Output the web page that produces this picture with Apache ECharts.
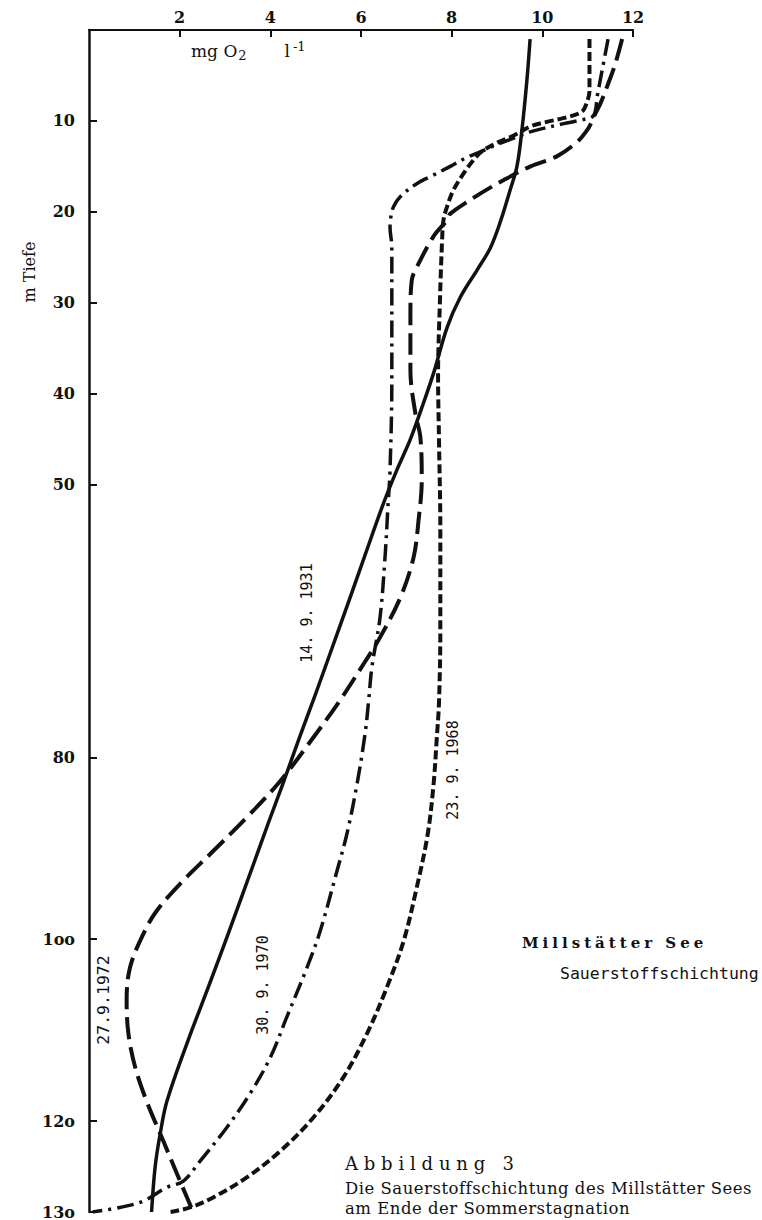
<!DOCTYPE html>
<html><head><meta charset="utf-8">
<script src="https://cdn.jsdelivr.net/npm/echarts@6/dist/echarts.min.js"></script>
<style>html,body{margin:0;padding:0;background:#fff}#c{width:762px;height:1220px}</style>
</head><body><div id="c"></div>
<script>
// ---- axis ticks ----
const o2Ticks = [2, 4, 6, 8, 10, 12];
const depthTicks = [10, 20, 30, 40, 50, 80, 100, 120, 130];
const depthTickLabels = ['10', '20', '30', '40', '50', '80', '1oo', '12o', '13o'];

// ---- series: depth (m) and oxygen (mg O2 / l) ----
const name1931 = '14. 9. 1931';
const depth1931 = [1, 5.5, 11, 15, 17.6, 21, 24, 26.4, 29.4, 32.7, 37.6, 41, 45, 48.4, 52, 57.6, 62.7, 68, 73, 78, 83, 87.3, 92, 99.4, 105.3, 111.2, 117.8, 121.4, 125, 130];
const o2_1931 = [9.73, 9.66, 9.55, 9.44, 9.29, 9.08, 8.85, 8.56, 8.19, 7.90, 7.61, 7.38, 7.09, 6.79, 6.50, 6.10, 5.74, 5.36, 5.0, 4.63, 4.27, 3.95, 3.61, 3.07, 2.63, 2.18, 1.72, 1.57, 1.46, 1.38];

const name1968 = '23. 9. 1968';
const depth1968 = [1, 6.7, 8, 9, 9.7, 10.1, 10.6, 11.6, 12.4, 13.3, 14.3, 15.8, 17.6, 19.4, 20.9, 23, 30, 38, 45, 55, 66, 74, 78, 83, 88.5, 94.3, 100.2, 105.3, 110.4, 115.2, 119.6, 123.3, 126.2, 128.4, 129.5, 130];
const o2_1968 = [11.04, 11.04, 10.98, 10.87, 10.46, 10.1, 9.74, 9.37, 9.0, 8.68, 8.48, 8.26, 8.04, 7.90, 7.82, 7.79, 7.74, 7.70, 7.72, 7.75, 7.75, 7.72, 7.67, 7.60, 7.47, 7.23, 6.94, 6.57, 6.13, 5.61, 4.95, 4.22, 3.48, 2.74, 2.23, 1.8];

const name1970 = '30. 9. 1970';
const depth1970 = [1, 4.4, 7.3, 9.4, 9.9, 10.3, 11.2, 11.9, 12.6, 13.4, 14.1, 15, 16, 16.9, 18.3, 19.4, 20.5, 21.7, 23.9, 30, 38.5, 48.4, 52.8, 58, 64.6, 70.1, 73.7, 77.4, 83, 88.4, 92.5, 99.1, 103.1, 108.6, 113, 117, 120.7, 124.4, 126.6, 127.3, 128.8, 129.5, 130];
const o2_1970 = [11.45, 11.32, 11.21, 11.13, 10.85, 10.47, 9.73, 9.37, 9.0, 8.63, 8.3, 7.97, 7.58, 7.23, 6.87, 6.72, 6.66, 6.64, 6.68, 6.68, 6.68, 6.64, 6.59, 6.53, 6.42, 6.24, 6.17, 6.09, 5.91, 5.69, 5.47, 5.10, 4.81, 4.36, 4.0, 3.55, 3.04, 2.45, 2.08, 1.71, 1.2, 0.68, 0.08];

const name1972 = '27.9.1972';
const depth1972 = [1, 3.7, 6.2, 8.1, 9.4, 10.2, 11, 12.3, 13.9, 15, 16.5, 18, 20.2, 20.9, 22.7, 26.1, 27.5, 31.2, 37.4, 42.2, 44.8, 49.5, 53.9, 58, 62.4, 66.8, 69.7, 74, 78, 82.6, 86.6, 90.3, 93.9, 96.9, 99.4, 103.1, 106.8, 110.4, 114.1, 117.8, 122.2, 125.8, 129.2, 130];
const o2_1972 = [11.76, 11.61, 11.43, 11.28, 11.15, 11.08, 10.99, 10.77, 10.32, 9.74, 9.15, 8.63, 7.97, 7.90, 7.60, 7.23, 7.12, 7.09, 7.09, 7.20, 7.31, 7.34, 7.27, 7.16, 6.87, 6.42, 6.06, 5.5, 4.92, 4.22, 3.48, 2.74, 2.01, 1.49, 1.20, 0.905, 0.83, 0.87, 1.02, 1.27, 1.64, 1.94, 2.23, 2.30];

const pairs = (xs, ds) => xs.map((v, i) => [v, ds[i]]);
const INK = '#111';

const chart = echarts.init(document.getElementById('c'), null, { renderer: 'svg' });

function line(name, xs, ds, type, width) {
  return {
    name, type: 'line', data: pairs(xs, ds), symbol: 'none', smooth: 0.35,
    animation: false, silent: true,
    lineStyle: { color: INK, width: width, type: type, cap: 'butt', join: 'round' }
  };
}

function rotLabel(text, x, y, size) {
  return { type: 'text', x, y, rotation: Math.PI / 2, silent: true,
    style: { text, fill: INK, font: size + 'px "DejaVu Sans Mono"', align: 'center', verticalAlign: 'middle', textAlign: 'center', textVerticalAlign: 'middle' } };
}
function plainText(text, x, y, font) {
  return { type: 'text', x, y, silent: true,
    style: { text, fill: INK, font, align: 'left', verticalAlign: 'middle', textAlign: 'left', textVerticalAlign: 'middle' } };
}

chart.setOption({
  animation: false,
  backgroundColor: '#fff',
  grid: { left: 89, top: 30, width: 544, height: 1182, containLabel: false },
  xAxis: {
    type: 'value', position: 'top', min: 0, max: 12, interval: 2,
    axisLine: { show: true, lineStyle: { color: INK, width: 2 } },
    axisTick: { show: true, inside: true, length: 7, lineStyle: { color: INK, width: 2 }, customValues: o2Ticks },
    axisLabel: { show: true, color: INK, fontSize: 16, fontWeight: 'bold', fontFamily: 'DejaVu Serif', margin: 5, customValues: o2Ticks },
    splitLine: { show: false }
  },
  yAxis: {
    type: 'value', inverse: true, min: 0, max: 130,
    axisLine: { show: true, lineStyle: { color: INK, width: 2.5 } },
    axisTick: { show: true, inside: true, length: 8, lineStyle: { color: INK, width: 2 }, customValues: depthTicks },
    axisLabel: { show: true, color: INK, fontSize: 16, fontWeight: 'bold', fontFamily: 'DejaVu Serif', margin: 14, customValues: depthTicks,
      formatter: v => { const i = depthTicks.indexOf(v); return i >= 0 ? depthTickLabels[i] : ''; } },
    splitLine: { show: false }
  },
  series: [
    line(name1931, o2_1931, depth1931, 'solid', 3.5),
    line(name1968, o2_1968, depth1968, [9, 4], 4),
    line(name1970, o2_1970, depth1970, [17, 6, 3, 6], 3.5),
    line(name1972, o2_1972, depth1972, [22, 8], 4)
  ],
  graphic: { elements: [
    { type: 'text', x: 29, y: 272, rotation: Math.PI / 2, silent: true,
      style: { text: 'm Tiefe', fill: INK, font: '16px "DejaVu Serif"', align: 'center', verticalAlign: 'middle', textAlign: 'center', textVerticalAlign: 'middle' } },
    { type: 'text', x: 191, y: 51, silent: true,
      style: { text: 'mg O{sub|2}       l{sup|-1}', fill: INK, font: '17px "DejaVu Serif"', align: 'left', verticalAlign: 'middle', textAlign: 'left', textVerticalAlign: 'middle',
        rich: { sub: { fontSize: 13, fontFamily: 'DejaVu Serif', padding: [9, 0, 0, 1] }, sup: { fontSize: 13, fontFamily: 'DejaVu Serif', padding: [0, 0, 9, 3] } } } },
    rotLabel(name1931, 307, 613, 15),
    rotLabel(name1968, 453, 770, 15),
    rotLabel(name1970, 263, 985, 15),
    rotLabel(name1972, 103, 1000, 16.5),
    plainText('Millstätter See', 522, 943, 'bold 15px "DejaVu Serif"'),
    plainText('Sauerstoffschichtung', 560, 973, '16.5px "DejaVu Sans Mono"'),
    plainText('Abbildung 3', 345, 1163, '18px "DejaVu Serif"'),
    plainText('Die Sauerstoffschichtung des Millstätter Sees', 345, 1188, '16.5px "DejaVu Serif"'),
    plainText('am Ende der Sommerstagnation', 345, 1208, '16.5px "DejaVu Serif"')
  ] }
});

const spacing = { 'Millstätter See': 4, 'Abbildung 3': 5.8, 'Die Sauerstoffschichtung des Millstätter Sees': 0.5, 'am Ende der Sommerstagnation': 0.5 };
function applySpacing() {
  document.querySelectorAll('#c svg text').forEach(t => {
    const s = spacing[t.textContent];
    if (s != null) t.setAttribute('letter-spacing', s);
  });
}
chart.on('finished', applySpacing);
applySpacing();
setTimeout(applySpacing, 50);
setTimeout(applySpacing, 300);
</script>
</body></html>
